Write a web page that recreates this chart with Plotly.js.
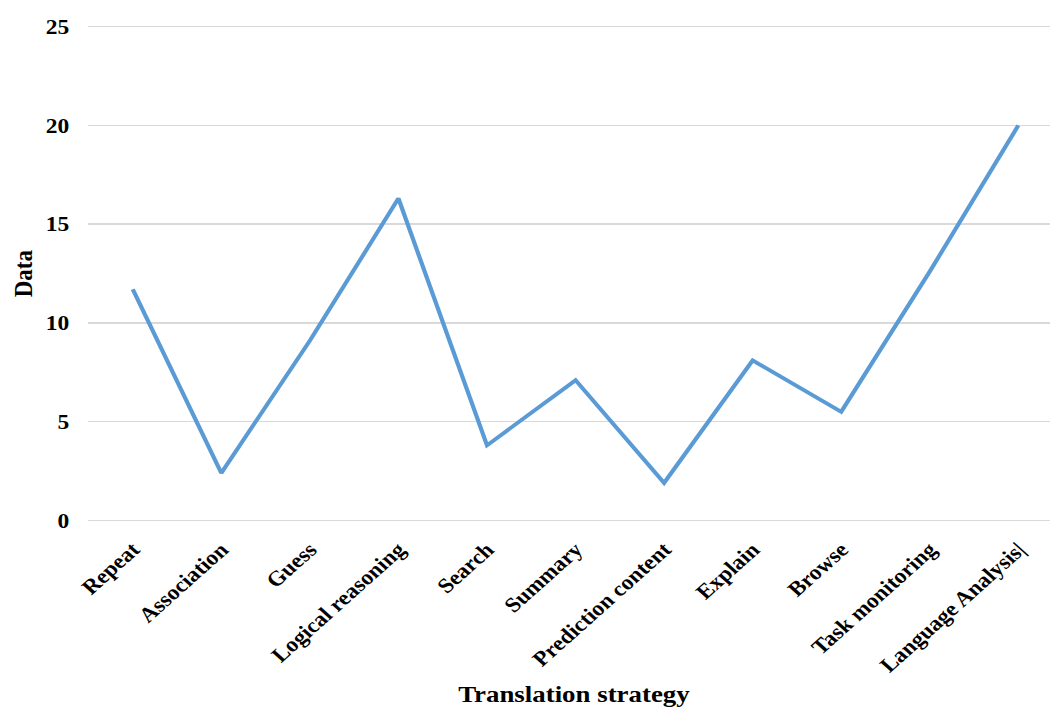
<!DOCTYPE html>
<html>
<head>
<meta charset="utf-8">
<script src="https://cdn.plot.ly/plotly-3.0.1.min.js"></script>
<style>
  html, body { margin: 0; padding: 0; background: #ffffff; overflow: hidden; }
  /* the figure is laid out narrower and widened to fill the page */
  #chart { width: 937.5px; height: 708px; transform: scaleX(1.12); transform-origin: 0 0; }
</style>
</head>
<body>
<div id="chart"></div>
<script>
// Translation strategies and how often each was used
const strategies = [
  "Repeat", "Association", "Guess", "Logical reasoning", "Search",
  "Summary", "Prediction content", "Explain", "Browse",
  "Task monitoring", "Language Analysis|"
];
const counts = [11.7, 2.4, 9.1, 16.3, 3.8, 7.1, 1.9, 8.1, 5.5, 12.6, 20];
const yTicks = [0, 5, 10, 15, 20, 25];

const serif = "'Liberation Serif', 'Times New Roman', serif";

const trace = {
  x: strategies.map((_, i) => i),
  y: counts,
  type: "scatter",
  mode: "lines",
  line: { color: "#5b9bd5", width: 3.8, shape: "linear" },
  hoverinfo: "x+y"
};

const layout = {
  width: 937.5,
  height: 708,
  margin: { l: 79.2, r: 0, t: 25, b: 186.4 },
  paper_bgcolor: "#ffffff",
  plot_bgcolor: "#ffffff",
  showlegend: false,
  xaxis: {
    range: [-0.5, 10.364],
    tickmode: "array",
    tickvals: strategies.map((_, i) => i),
    ticktext: strategies.map(s => "<b>" + s + "</b>"),
    tickangle: -45,
    tickfont: { family: serif, size: 21, color: "#000000" },
    ticklabelshift: -3.5,
    showgrid: false,
    zeroline: false,
    showline: false,
    ticks: "outside",
    ticklen: 6,
    tickcolor: "rgba(0,0,0,0)"
  },
  yaxis: {
    // small padding so the 0 and 25 gridlines are drawn
    range: [-0.08, 25.08],
    tickmode: "array",
    tickvals: yTicks,
    ticktext: yTicks.map(v => "<b>" + v + "</b>"),
    tickfont: { family: serif, size: 21, color: "#000000" },
    showgrid: true,
    gridcolor: "#d9d9d9",
    gridwidth: 1.4,
    zeroline: false,
    showline: false,
    ticks: "outside",
    ticklen: 12,
    tickcolor: "rgba(0,0,0,0)"
  },
  annotations: [
    {
      text: "<b>Data</b>",
      xref: "paper", yref: "paper",
      x: -0.0678, y: 0.5,
      xanchor: "center", yanchor: "middle",
      textangle: -90,
      showarrow: false,
      font: { family: serif, size: 23, color: "#000000" }
    },
    {
      text: "<b>Translation strategy</b>",
      xref: "paper", yref: "paper",
      x: 0.5048, y: -0.3755,
      xanchor: "center", yanchor: "bottom",
      showarrow: false,
      font: { family: serif, size: 24, color: "#000000" }
    }
  ]
};

Plotly.newPlot("chart", [trace], layout, { displayModeBar: false, staticPlot: true });
</script>
</body>
</html>
